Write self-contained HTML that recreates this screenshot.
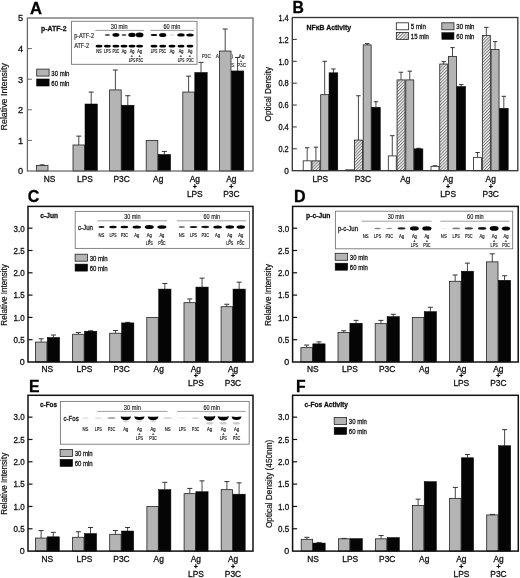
<!DOCTYPE html>
<html><head><meta charset="utf-8"><title>Figure</title>
<style>html,body{margin:0;padding:0;background:#fff;}svg{display:block;will-change:transform;filter:grayscale(1) blur(0.3px);font-family:'Liberation Sans', sans-serif;}</style>
</head><body>
<svg width="520" height="578" viewBox="0 0 520 578">
<defs>
<pattern id="hatch" width="2.2" height="2.2" patternUnits="userSpaceOnUse" patternTransform="rotate(45)"><rect width="2.2" height="2.2" fill="#f6f6f6"/><line x1="0.5" y1="0" x2="0.5" y2="2.2" stroke="#666" stroke-width="0.85"/></pattern>
<filter id="bl" x="-30%" y="-80%" width="160%" height="260%"><feGaussianBlur stdDeviation="0.45"/></filter>
</defs>
<rect width="520" height="578" fill="#fff"/>
<line x1="42.20" y1="165.49" x2="42.20" y2="164.88" stroke="#333" stroke-width="0.9"/>
<line x1="39.70" y1="164.88" x2="44.70" y2="164.88" stroke="#333" stroke-width="1"/>
<rect x="36.40" y="165.49" width="11.60" height="5.51" fill="#b4b4b4" stroke="#222" stroke-width="0.8"/>
<line x1="78.80" y1="144.99" x2="78.80" y2="136.12" stroke="#333" stroke-width="0.9"/>
<line x1="76.30" y1="136.12" x2="81.30" y2="136.12" stroke="#333" stroke-width="1"/>
<rect x="73.00" y="144.99" width="11.60" height="26.01" fill="#b4b4b4" stroke="#222" stroke-width="0.8"/>
<line x1="91.20" y1="103.99" x2="91.20" y2="92.05" stroke="#333" stroke-width="0.9"/>
<line x1="88.70" y1="92.05" x2="93.70" y2="92.05" stroke="#333" stroke-width="1"/>
<rect x="85.00" y="103.99" width="12.40" height="67.01" fill="#050505" stroke="#000" stroke-width="0.5"/>
<line x1="115.40" y1="89.91" x2="115.40" y2="70.02" stroke="#333" stroke-width="0.9"/>
<line x1="112.90" y1="70.02" x2="117.90" y2="70.02" stroke="#333" stroke-width="1"/>
<rect x="109.60" y="89.91" width="11.60" height="81.09" fill="#b4b4b4" stroke="#222" stroke-width="0.8"/>
<line x1="127.80" y1="105.21" x2="127.80" y2="95.72" stroke="#333" stroke-width="0.9"/>
<line x1="125.30" y1="95.72" x2="130.30" y2="95.72" stroke="#333" stroke-width="1"/>
<rect x="121.60" y="105.21" width="12.40" height="65.79" fill="#050505" stroke="#000" stroke-width="0.5"/>
<rect x="146.20" y="140.40" width="11.60" height="30.60" fill="#b4b4b4" stroke="#222" stroke-width="0.8"/>
<line x1="164.40" y1="154.48" x2="164.40" y2="151.42" stroke="#333" stroke-width="0.9"/>
<line x1="161.90" y1="151.42" x2="166.90" y2="151.42" stroke="#333" stroke-width="1"/>
<rect x="158.20" y="154.48" width="12.40" height="16.52" fill="#050505" stroke="#000" stroke-width="0.5"/>
<line x1="188.60" y1="92.05" x2="188.60" y2="76.14" stroke="#333" stroke-width="0.9"/>
<line x1="186.10" y1="76.14" x2="191.10" y2="76.14" stroke="#333" stroke-width="1"/>
<rect x="182.80" y="92.05" width="11.60" height="78.95" fill="#b4b4b4" stroke="#222" stroke-width="0.8"/>
<line x1="201.00" y1="72.47" x2="201.00" y2="62.37" stroke="#333" stroke-width="0.9"/>
<line x1="198.50" y1="62.37" x2="203.50" y2="62.37" stroke="#333" stroke-width="1"/>
<rect x="194.80" y="72.47" width="12.40" height="98.53" fill="#050505" stroke="#000" stroke-width="0.5"/>
<line x1="225.20" y1="51.05" x2="225.20" y2="29.02" stroke="#333" stroke-width="0.9"/>
<line x1="222.70" y1="29.02" x2="227.70" y2="29.02" stroke="#333" stroke-width="1"/>
<rect x="219.40" y="51.05" width="11.60" height="119.95" fill="#b4b4b4" stroke="#222" stroke-width="0.8"/>
<line x1="237.60" y1="70.94" x2="237.60" y2="57.47" stroke="#333" stroke-width="0.9"/>
<line x1="235.10" y1="57.47" x2="240.10" y2="57.47" stroke="#333" stroke-width="1"/>
<rect x="231.40" y="70.94" width="12.40" height="100.06" fill="#050505" stroke="#000" stroke-width="0.5"/>
<rect x="27.4" y="18" width="225.6" height="153" fill="none" stroke="#666" stroke-width="1.25"/>
<text x="23.10" y="174.30" font-size="9.2" text-anchor="end" font-weight="normal" fill="#111" stroke="#111" stroke-width="0.3" >0</text>
<line x1="27.40" y1="140.40" x2="31.90" y2="140.40" stroke="#666" stroke-width="1"/>
<text x="23.10" y="143.70" font-size="9.2" text-anchor="end" font-weight="normal" fill="#111" stroke="#111" stroke-width="0.3" >1</text>
<line x1="27.40" y1="109.80" x2="31.90" y2="109.80" stroke="#666" stroke-width="1"/>
<text x="23.10" y="113.10" font-size="9.2" text-anchor="end" font-weight="normal" fill="#111" stroke="#111" stroke-width="0.3" >2</text>
<line x1="27.40" y1="79.20" x2="31.90" y2="79.20" stroke="#666" stroke-width="1"/>
<text x="23.10" y="82.50" font-size="9.2" text-anchor="end" font-weight="normal" fill="#111" stroke="#111" stroke-width="0.3" >3</text>
<line x1="27.40" y1="48.60" x2="31.90" y2="48.60" stroke="#666" stroke-width="1"/>
<text x="23.10" y="51.90" font-size="9.2" text-anchor="end" font-weight="normal" fill="#111" stroke="#111" stroke-width="0.3" >4</text>
<text x="23.10" y="21.30" font-size="9.2" text-anchor="end" font-weight="normal" fill="#111" stroke="#111" stroke-width="0.3" >5</text>
<text x="49.50" y="182.20" font-size="8.4" text-anchor="middle" font-weight="normal" fill="#111" stroke="#111" stroke-width="0.3" >NS</text>
<text x="85.00" y="182.20" font-size="8.4" text-anchor="middle" font-weight="normal" fill="#111" stroke="#111" stroke-width="0.3" >LPS</text>
<text x="121.60" y="182.20" font-size="8.4" text-anchor="middle" font-weight="normal" fill="#111" stroke="#111" stroke-width="0.3" >P3C</text>
<text x="158.20" y="182.20" font-size="8.4" text-anchor="middle" font-weight="normal" fill="#111" stroke="#111" stroke-width="0.3" >Ag</text>
<text x="194.80" y="182.20" font-size="8.4" text-anchor="middle" font-weight="normal" fill="#111" stroke="#111" stroke-width="0.3" >Ag</text>
<text x="194.80" y="188.80" font-size="7" text-anchor="middle" font-weight="bold" fill="#111" stroke="#111" stroke-width="0.3" >+</text>
<text x="194.80" y="196.80" font-size="8.4" text-anchor="middle" font-weight="normal" fill="#111" stroke="#111" stroke-width="0.3" >LPS</text>
<text x="231.40" y="182.20" font-size="8.4" text-anchor="middle" font-weight="normal" fill="#111" stroke="#111" stroke-width="0.3" >Ag</text>
<text x="231.40" y="188.80" font-size="7" text-anchor="middle" font-weight="bold" fill="#111" stroke="#111" stroke-width="0.3" >+</text>
<text x="231.40" y="196.80" font-size="8.4" text-anchor="middle" font-weight="normal" fill="#111" stroke="#111" stroke-width="0.3" >P3C</text>
<text transform="translate(7.4,96.8) rotate(-90)" font-size="8.6" text-anchor="middle" fill="#111" stroke="#111" stroke-width="0.2" textLength="67.2" lengthAdjust="spacingAndGlyphs">Relative Intensity</text>
<line x1="307.18" y1="160.85" x2="307.18" y2="147.73" stroke="#333" stroke-width="0.9"/>
<line x1="304.98" y1="147.73" x2="309.38" y2="147.73" stroke="#333" stroke-width="1"/>
<rect x="303.20" y="160.85" width="7.95" height="9.85" fill="#fff" stroke="#222" stroke-width="0.8"/>
<line x1="315.93" y1="160.85" x2="315.93" y2="147.18" stroke="#333" stroke-width="0.9"/>
<line x1="313.73" y1="147.18" x2="318.12" y2="147.18" stroke="#333" stroke-width="1"/>
<rect x="311.95" y="160.85" width="7.95" height="9.85" fill="url(#hatch)" stroke="#222" stroke-width="0.8"/>
<line x1="324.68" y1="94.67" x2="324.68" y2="61.30" stroke="#333" stroke-width="0.9"/>
<line x1="322.48" y1="61.30" x2="326.88" y2="61.30" stroke="#333" stroke-width="1"/>
<rect x="320.70" y="94.67" width="7.95" height="76.03" fill="#b4b4b4" stroke="#222" stroke-width="0.8"/>
<line x1="333.43" y1="72.79" x2="333.43" y2="68.96" stroke="#333" stroke-width="0.9"/>
<line x1="331.23" y1="68.96" x2="335.62" y2="68.96" stroke="#333" stroke-width="1"/>
<rect x="329.05" y="72.79" width="8.75" height="97.91" fill="#050505" stroke="#000" stroke-width="0.5"/>
<rect x="345.70" y="169.82" width="7.95" height="0.88" fill="#fff" stroke="#222" stroke-width="0.8"/>
<line x1="358.43" y1="140.07" x2="358.43" y2="95.76" stroke="#333" stroke-width="0.9"/>
<line x1="356.23" y1="95.76" x2="360.62" y2="95.76" stroke="#333" stroke-width="1"/>
<rect x="354.45" y="140.07" width="7.95" height="30.63" fill="url(#hatch)" stroke="#222" stroke-width="0.8"/>
<line x1="367.18" y1="44.89" x2="367.18" y2="43.58" stroke="#333" stroke-width="0.9"/>
<line x1="364.98" y1="43.58" x2="369.38" y2="43.58" stroke="#333" stroke-width="1"/>
<rect x="363.20" y="44.89" width="7.95" height="125.81" fill="#b4b4b4" stroke="#222" stroke-width="0.8"/>
<line x1="375.93" y1="107.25" x2="375.93" y2="101.78" stroke="#333" stroke-width="0.9"/>
<line x1="373.73" y1="101.78" x2="378.12" y2="101.78" stroke="#333" stroke-width="1"/>
<rect x="371.55" y="107.25" width="8.75" height="63.45" fill="#050505" stroke="#000" stroke-width="0.5"/>
<line x1="392.27" y1="155.93" x2="392.27" y2="135.69" stroke="#333" stroke-width="0.9"/>
<line x1="390.07" y1="135.69" x2="394.47" y2="135.69" stroke="#333" stroke-width="1"/>
<rect x="388.30" y="155.93" width="7.95" height="14.77" fill="#fff" stroke="#222" stroke-width="0.8"/>
<line x1="401.02" y1="79.90" x2="401.02" y2="72.24" stroke="#333" stroke-width="0.9"/>
<line x1="398.82" y1="72.24" x2="403.22" y2="72.24" stroke="#333" stroke-width="1"/>
<rect x="397.05" y="79.90" width="7.95" height="90.80" fill="url(#hatch)" stroke="#222" stroke-width="0.8"/>
<line x1="409.77" y1="79.90" x2="409.77" y2="71.15" stroke="#333" stroke-width="0.9"/>
<line x1="407.57" y1="71.15" x2="411.97" y2="71.15" stroke="#333" stroke-width="1"/>
<rect x="405.80" y="79.90" width="7.95" height="90.80" fill="#b4b4b4" stroke="#222" stroke-width="0.8"/>
<line x1="418.52" y1="148.82" x2="418.52" y2="148.27" stroke="#333" stroke-width="0.9"/>
<line x1="416.32" y1="148.27" x2="420.72" y2="148.27" stroke="#333" stroke-width="1"/>
<rect x="414.15" y="148.82" width="8.75" height="21.88" fill="#050505" stroke="#000" stroke-width="0.5"/>
<line x1="434.98" y1="166.32" x2="434.98" y2="165.78" stroke="#333" stroke-width="0.9"/>
<line x1="432.78" y1="165.78" x2="437.18" y2="165.78" stroke="#333" stroke-width="1"/>
<rect x="431.00" y="166.32" width="7.95" height="4.38" fill="#fff" stroke="#222" stroke-width="0.8"/>
<line x1="443.73" y1="64.03" x2="443.73" y2="61.63" stroke="#333" stroke-width="0.9"/>
<line x1="441.53" y1="61.63" x2="445.93" y2="61.63" stroke="#333" stroke-width="1"/>
<rect x="439.75" y="64.03" width="7.95" height="106.67" fill="url(#hatch)" stroke="#222" stroke-width="0.8"/>
<line x1="452.48" y1="56.38" x2="452.48" y2="47.62" stroke="#333" stroke-width="0.9"/>
<line x1="450.28" y1="47.62" x2="454.68" y2="47.62" stroke="#333" stroke-width="1"/>
<rect x="448.50" y="56.38" width="7.95" height="114.32" fill="#b4b4b4" stroke="#222" stroke-width="0.8"/>
<line x1="461.23" y1="86.46" x2="461.23" y2="84.60" stroke="#333" stroke-width="0.9"/>
<line x1="459.03" y1="84.60" x2="463.43" y2="84.60" stroke="#333" stroke-width="1"/>
<rect x="456.85" y="86.46" width="8.75" height="84.24" fill="#050505" stroke="#000" stroke-width="0.5"/>
<line x1="477.57" y1="157.35" x2="477.57" y2="152.54" stroke="#333" stroke-width="0.9"/>
<line x1="475.38" y1="152.54" x2="479.77" y2="152.54" stroke="#333" stroke-width="1"/>
<rect x="473.60" y="157.35" width="7.95" height="13.35" fill="#fff" stroke="#222" stroke-width="0.8"/>
<line x1="486.32" y1="35.59" x2="486.32" y2="27.39" stroke="#333" stroke-width="0.9"/>
<line x1="484.12" y1="27.39" x2="488.52" y2="27.39" stroke="#333" stroke-width="1"/>
<rect x="482.35" y="35.59" width="7.95" height="135.11" fill="url(#hatch)" stroke="#222" stroke-width="0.8"/>
<line x1="495.07" y1="49.59" x2="495.07" y2="41.61" stroke="#333" stroke-width="0.9"/>
<line x1="492.88" y1="41.61" x2="497.27" y2="41.61" stroke="#333" stroke-width="1"/>
<rect x="491.10" y="49.59" width="7.95" height="121.11" fill="#b4b4b4" stroke="#222" stroke-width="0.8"/>
<line x1="503.82" y1="108.34" x2="503.82" y2="96.31" stroke="#333" stroke-width="0.9"/>
<line x1="501.62" y1="96.31" x2="506.02" y2="96.31" stroke="#333" stroke-width="1"/>
<rect x="499.45" y="108.34" width="8.75" height="62.36" fill="#050505" stroke="#000" stroke-width="0.5"/>
<rect x="292.3" y="17.5" width="225.49999999999994" height="153.2" fill="none" stroke="#333" stroke-width="1.3"/>
<text x="288.70" y="174.00" font-size="8.2" text-anchor="end" font-weight="normal" fill="#111" stroke="#111" stroke-width="0.3" >0</text>
<line x1="292.30" y1="148.82" x2="296.80" y2="148.82" stroke="#333" stroke-width="1"/>
<text x="288.70" y="152.12" font-size="8.2" text-anchor="end" font-weight="normal" fill="#111" stroke="#111" stroke-width="0.3" textLength="10.26" lengthAdjust="spacingAndGlyphs">0.2</text>
<line x1="292.30" y1="126.94" x2="296.80" y2="126.94" stroke="#333" stroke-width="1"/>
<text x="288.70" y="130.24" font-size="8.2" text-anchor="end" font-weight="normal" fill="#111" stroke="#111" stroke-width="0.3" textLength="10.26" lengthAdjust="spacingAndGlyphs">0.4</text>
<line x1="292.30" y1="105.06" x2="296.80" y2="105.06" stroke="#333" stroke-width="1"/>
<text x="288.70" y="108.36" font-size="8.2" text-anchor="end" font-weight="normal" fill="#111" stroke="#111" stroke-width="0.3" textLength="10.26" lengthAdjust="spacingAndGlyphs">0.6</text>
<line x1="292.30" y1="83.18" x2="296.80" y2="83.18" stroke="#333" stroke-width="1"/>
<text x="288.70" y="86.48" font-size="8.2" text-anchor="end" font-weight="normal" fill="#111" stroke="#111" stroke-width="0.3" textLength="10.26" lengthAdjust="spacingAndGlyphs">0.8</text>
<line x1="292.30" y1="61.30" x2="296.80" y2="61.30" stroke="#333" stroke-width="1"/>
<text x="288.70" y="64.60" font-size="8.2" text-anchor="end" font-weight="normal" fill="#111" stroke="#111" stroke-width="0.3" textLength="10.26" lengthAdjust="spacingAndGlyphs">1.0</text>
<line x1="292.30" y1="39.42" x2="296.80" y2="39.42" stroke="#333" stroke-width="1"/>
<text x="288.70" y="42.72" font-size="8.2" text-anchor="end" font-weight="normal" fill="#111" stroke="#111" stroke-width="0.3" textLength="10.26" lengthAdjust="spacingAndGlyphs">1.2</text>
<text x="288.70" y="20.84" font-size="8.2" text-anchor="end" font-weight="normal" fill="#111" stroke="#111" stroke-width="0.3" textLength="10.26" lengthAdjust="spacingAndGlyphs">1.4</text>
<text x="320.30" y="181.90" font-size="8.4" text-anchor="middle" font-weight="normal" fill="#111" stroke="#111" stroke-width="0.3" >LPS</text>
<text x="362.80" y="181.90" font-size="8.4" text-anchor="middle" font-weight="normal" fill="#111" stroke="#111" stroke-width="0.3" >P3C</text>
<text x="405.40" y="181.90" font-size="8.4" text-anchor="middle" font-weight="normal" fill="#111" stroke="#111" stroke-width="0.3" >Ag</text>
<text x="448.10" y="181.90" font-size="8.4" text-anchor="middle" font-weight="normal" fill="#111" stroke="#111" stroke-width="0.3" >Ag</text>
<text x="448.10" y="188.50" font-size="7" text-anchor="middle" font-weight="bold" fill="#111" stroke="#111" stroke-width="0.3" >+</text>
<text x="448.10" y="196.50" font-size="8.4" text-anchor="middle" font-weight="normal" fill="#111" stroke="#111" stroke-width="0.3" >LPS</text>
<text x="490.70" y="181.90" font-size="8.4" text-anchor="middle" font-weight="normal" fill="#111" stroke="#111" stroke-width="0.3" >Ag</text>
<text x="490.70" y="188.50" font-size="7" text-anchor="middle" font-weight="bold" fill="#111" stroke="#111" stroke-width="0.3" >+</text>
<text x="490.70" y="196.50" font-size="8.4" text-anchor="middle" font-weight="normal" fill="#111" stroke="#111" stroke-width="0.3" >P3C</text>
<text transform="translate(271.4,94.2) rotate(-90)" font-size="8.2" text-anchor="middle" fill="#111" stroke="#111" stroke-width="0.2" textLength="54.4" lengthAdjust="spacingAndGlyphs">Optical Density</text>
<line x1="41.15" y1="342.06" x2="41.15" y2="338.81" stroke="#333" stroke-width="0.9"/>
<line x1="38.65" y1="338.81" x2="43.65" y2="338.81" stroke="#333" stroke-width="1"/>
<rect x="35.40" y="342.06" width="11.50" height="19.94" fill="#b4b4b4" stroke="#222" stroke-width="0.8"/>
<line x1="53.45" y1="337.47" x2="53.45" y2="335.02" stroke="#333" stroke-width="0.9"/>
<line x1="50.95" y1="335.02" x2="55.95" y2="335.02" stroke="#333" stroke-width="1"/>
<rect x="47.30" y="337.47" width="12.30" height="24.53" fill="#050505" stroke="#000" stroke-width="0.5"/>
<line x1="78.35" y1="334.26" x2="78.35" y2="332.56" stroke="#333" stroke-width="0.9"/>
<line x1="75.85" y1="332.56" x2="80.85" y2="332.56" stroke="#333" stroke-width="1"/>
<rect x="72.60" y="334.26" width="11.50" height="27.74" fill="#b4b4b4" stroke="#222" stroke-width="0.8"/>
<line x1="90.65" y1="331.23" x2="90.65" y2="330.78" stroke="#333" stroke-width="0.9"/>
<line x1="88.15" y1="330.78" x2="93.15" y2="330.78" stroke="#333" stroke-width="1"/>
<rect x="84.50" y="331.23" width="12.30" height="30.77" fill="#050505" stroke="#000" stroke-width="0.5"/>
<line x1="115.45" y1="333.23" x2="115.45" y2="330.47" stroke="#333" stroke-width="0.9"/>
<line x1="112.95" y1="330.47" x2="117.95" y2="330.47" stroke="#333" stroke-width="1"/>
<rect x="109.70" y="333.23" width="11.50" height="28.77" fill="#b4b4b4" stroke="#222" stroke-width="0.8"/>
<line x1="127.75" y1="322.89" x2="127.75" y2="322.31" stroke="#333" stroke-width="0.9"/>
<line x1="125.25" y1="322.31" x2="130.25" y2="322.31" stroke="#333" stroke-width="1"/>
<rect x="121.60" y="322.89" width="12.30" height="39.11" fill="#050505" stroke="#000" stroke-width="0.5"/>
<rect x="146.80" y="317.40" width="11.50" height="44.60" fill="#b4b4b4" stroke="#222" stroke-width="0.8"/>
<line x1="164.85" y1="289.08" x2="164.85" y2="283.50" stroke="#333" stroke-width="0.9"/>
<line x1="162.35" y1="283.50" x2="167.35" y2="283.50" stroke="#333" stroke-width="1"/>
<rect x="158.70" y="289.08" width="12.30" height="72.92" fill="#050505" stroke="#000" stroke-width="0.5"/>
<line x1="189.75" y1="302.68" x2="189.75" y2="298.94" stroke="#333" stroke-width="0.9"/>
<line x1="187.25" y1="298.94" x2="192.25" y2="298.94" stroke="#333" stroke-width="1"/>
<rect x="184.00" y="302.68" width="11.50" height="59.32" fill="#b4b4b4" stroke="#222" stroke-width="0.8"/>
<line x1="202.05" y1="287.07" x2="202.05" y2="278.15" stroke="#333" stroke-width="0.9"/>
<line x1="199.55" y1="278.15" x2="204.55" y2="278.15" stroke="#333" stroke-width="1"/>
<rect x="195.90" y="287.07" width="12.30" height="74.93" fill="#050505" stroke="#000" stroke-width="0.5"/>
<line x1="226.85" y1="306.70" x2="226.85" y2="304.24" stroke="#333" stroke-width="0.9"/>
<line x1="224.35" y1="304.24" x2="229.35" y2="304.24" stroke="#333" stroke-width="1"/>
<rect x="221.10" y="306.70" width="11.50" height="55.30" fill="#b4b4b4" stroke="#222" stroke-width="0.8"/>
<line x1="239.15" y1="289.08" x2="239.15" y2="282.17" stroke="#333" stroke-width="0.9"/>
<line x1="236.65" y1="282.17" x2="241.65" y2="282.17" stroke="#333" stroke-width="1"/>
<rect x="233.00" y="289.08" width="12.30" height="72.92" fill="#050505" stroke="#000" stroke-width="0.5"/>
<rect x="28" y="206.4" width="225" height="155.6" fill="none" stroke="#111" stroke-width="1.5"/>
<text x="24.60" y="365.30" font-size="8.9" text-anchor="end" font-weight="normal" fill="#111" stroke="#111" stroke-width="0.3" >0</text>
<line x1="28.00" y1="339.70" x2="32.50" y2="339.70" stroke="#111" stroke-width="1.2"/>
<text x="24.60" y="343.00" font-size="8.9" text-anchor="end" font-weight="normal" fill="#111" stroke="#111" stroke-width="0.3" textLength="11.13" lengthAdjust="spacingAndGlyphs">0.5</text>
<line x1="28.00" y1="317.40" x2="32.50" y2="317.40" stroke="#111" stroke-width="1.2"/>
<text x="24.60" y="320.70" font-size="8.9" text-anchor="end" font-weight="normal" fill="#111" stroke="#111" stroke-width="0.3" textLength="11.13" lengthAdjust="spacingAndGlyphs">1.0</text>
<line x1="28.00" y1="295.10" x2="32.50" y2="295.10" stroke="#111" stroke-width="1.2"/>
<text x="24.60" y="298.40" font-size="8.9" text-anchor="end" font-weight="normal" fill="#111" stroke="#111" stroke-width="0.3" textLength="11.13" lengthAdjust="spacingAndGlyphs">1.5</text>
<line x1="28.00" y1="272.80" x2="32.50" y2="272.80" stroke="#111" stroke-width="1.2"/>
<text x="24.60" y="276.10" font-size="8.9" text-anchor="end" font-weight="normal" fill="#111" stroke="#111" stroke-width="0.3" textLength="11.13" lengthAdjust="spacingAndGlyphs">2.0</text>
<line x1="28.00" y1="250.50" x2="32.50" y2="250.50" stroke="#111" stroke-width="1.2"/>
<text x="24.60" y="253.80" font-size="8.9" text-anchor="end" font-weight="normal" fill="#111" stroke="#111" stroke-width="0.3" textLength="11.13" lengthAdjust="spacingAndGlyphs">2.5</text>
<line x1="28.00" y1="228.20" x2="32.50" y2="228.20" stroke="#111" stroke-width="1.2"/>
<text x="24.60" y="231.50" font-size="8.9" text-anchor="end" font-weight="normal" fill="#111" stroke="#111" stroke-width="0.3" textLength="11.13" lengthAdjust="spacingAndGlyphs">3.0</text>
<text x="47.30" y="371.60" font-size="8.4" text-anchor="middle" font-weight="normal" fill="#111" stroke="#111" stroke-width="0.3" >NS</text>
<text x="84.50" y="371.60" font-size="8.4" text-anchor="middle" font-weight="normal" fill="#111" stroke="#111" stroke-width="0.3" >LPS</text>
<text x="121.60" y="371.60" font-size="8.4" text-anchor="middle" font-weight="normal" fill="#111" stroke="#111" stroke-width="0.3" >P3C</text>
<text x="158.70" y="371.60" font-size="8.4" text-anchor="middle" font-weight="normal" fill="#111" stroke="#111" stroke-width="0.3" >Ag</text>
<text x="195.90" y="371.60" font-size="8.4" text-anchor="middle" font-weight="normal" fill="#111" stroke="#111" stroke-width="0.3" >Ag</text>
<text x="195.90" y="378.20" font-size="7" text-anchor="middle" font-weight="bold" fill="#111" stroke="#111" stroke-width="0.3" >+</text>
<text x="195.90" y="386.20" font-size="8.4" text-anchor="middle" font-weight="normal" fill="#111" stroke="#111" stroke-width="0.3" >LPS</text>
<text x="233.00" y="371.60" font-size="8.4" text-anchor="middle" font-weight="normal" fill="#111" stroke="#111" stroke-width="0.3" >Ag</text>
<text x="233.00" y="378.20" font-size="7" text-anchor="middle" font-weight="bold" fill="#111" stroke="#111" stroke-width="0.3" >+</text>
<text x="233.00" y="386.20" font-size="8.4" text-anchor="middle" font-weight="normal" fill="#111" stroke="#111" stroke-width="0.3" >P3C</text>
<text transform="translate(7.4,294.9) rotate(-90)" font-size="8.2" text-anchor="middle" fill="#111" stroke="#111" stroke-width="0.2" textLength="61.5" lengthAdjust="spacingAndGlyphs">Relative Intensity</text>
<line x1="306.65" y1="347.64" x2="306.65" y2="345.05" stroke="#333" stroke-width="0.9"/>
<line x1="304.15" y1="345.05" x2="309.15" y2="345.05" stroke="#333" stroke-width="1"/>
<rect x="300.90" y="347.64" width="11.50" height="14.36" fill="#b4b4b4" stroke="#222" stroke-width="0.8"/>
<line x1="318.95" y1="343.85" x2="318.95" y2="341.93" stroke="#333" stroke-width="0.9"/>
<line x1="316.45" y1="341.93" x2="321.45" y2="341.93" stroke="#333" stroke-width="1"/>
<rect x="312.80" y="343.85" width="12.30" height="18.15" fill="#050505" stroke="#000" stroke-width="0.5"/>
<line x1="343.75" y1="332.56" x2="343.75" y2="330.78" stroke="#333" stroke-width="0.9"/>
<line x1="341.25" y1="330.78" x2="346.25" y2="330.78" stroke="#333" stroke-width="1"/>
<rect x="338.00" y="332.56" width="11.50" height="29.44" fill="#b4b4b4" stroke="#222" stroke-width="0.8"/>
<line x1="356.05" y1="323.20" x2="356.05" y2="320.39" stroke="#333" stroke-width="0.9"/>
<line x1="353.55" y1="320.39" x2="358.55" y2="320.39" stroke="#333" stroke-width="1"/>
<rect x="349.90" y="323.20" width="12.30" height="38.80" fill="#050505" stroke="#000" stroke-width="0.5"/>
<line x1="380.95" y1="323.64" x2="380.95" y2="320.39" stroke="#333" stroke-width="0.9"/>
<line x1="378.45" y1="320.39" x2="383.45" y2="320.39" stroke="#333" stroke-width="1"/>
<rect x="375.20" y="323.64" width="11.50" height="38.36" fill="#b4b4b4" stroke="#222" stroke-width="0.8"/>
<line x1="393.25" y1="316.60" x2="393.25" y2="314.28" stroke="#333" stroke-width="0.9"/>
<line x1="390.75" y1="314.28" x2="395.75" y2="314.28" stroke="#333" stroke-width="1"/>
<rect x="387.10" y="316.60" width="12.30" height="45.40" fill="#050505" stroke="#000" stroke-width="0.5"/>
<rect x="412.30" y="317.40" width="11.50" height="44.60" fill="#b4b4b4" stroke="#222" stroke-width="0.8"/>
<line x1="430.35" y1="311.60" x2="430.35" y2="307.28" stroke="#333" stroke-width="0.9"/>
<line x1="427.85" y1="307.28" x2="432.85" y2="307.28" stroke="#333" stroke-width="1"/>
<rect x="424.20" y="311.60" width="12.30" height="50.40" fill="#050505" stroke="#000" stroke-width="0.5"/>
<line x1="455.15" y1="281.27" x2="455.15" y2="275.03" stroke="#333" stroke-width="0.9"/>
<line x1="452.65" y1="275.03" x2="457.65" y2="275.03" stroke="#333" stroke-width="1"/>
<rect x="449.40" y="281.27" width="11.50" height="80.73" fill="#b4b4b4" stroke="#222" stroke-width="0.8"/>
<line x1="467.45" y1="271.19" x2="467.45" y2="263.12" stroke="#333" stroke-width="0.9"/>
<line x1="464.95" y1="263.12" x2="469.95" y2="263.12" stroke="#333" stroke-width="1"/>
<rect x="461.30" y="271.19" width="12.30" height="90.81" fill="#050505" stroke="#000" stroke-width="0.5"/>
<line x1="492.25" y1="261.87" x2="492.25" y2="253.80" stroke="#333" stroke-width="0.9"/>
<line x1="489.75" y1="253.80" x2="494.75" y2="253.80" stroke="#333" stroke-width="1"/>
<rect x="486.50" y="261.87" width="11.50" height="100.13" fill="#b4b4b4" stroke="#222" stroke-width="0.8"/>
<line x1="504.55" y1="280.25" x2="504.55" y2="275.74" stroke="#333" stroke-width="0.9"/>
<line x1="502.05" y1="275.74" x2="507.05" y2="275.74" stroke="#333" stroke-width="1"/>
<rect x="498.40" y="280.25" width="12.30" height="81.75" fill="#050505" stroke="#000" stroke-width="0.5"/>
<rect x="292.6" y="206.4" width="225.60000000000002" height="155.6" fill="none" stroke="#111" stroke-width="1.5"/>
<text x="289.20" y="365.30" font-size="8.9" text-anchor="end" font-weight="normal" fill="#111" stroke="#111" stroke-width="0.3" >0</text>
<line x1="292.60" y1="339.70" x2="297.10" y2="339.70" stroke="#111" stroke-width="1.2"/>
<text x="289.20" y="343.00" font-size="8.9" text-anchor="end" font-weight="normal" fill="#111" stroke="#111" stroke-width="0.3" textLength="11.13" lengthAdjust="spacingAndGlyphs">0.5</text>
<line x1="292.60" y1="317.40" x2="297.10" y2="317.40" stroke="#111" stroke-width="1.2"/>
<text x="289.20" y="320.70" font-size="8.9" text-anchor="end" font-weight="normal" fill="#111" stroke="#111" stroke-width="0.3" textLength="11.13" lengthAdjust="spacingAndGlyphs">1.0</text>
<line x1="292.60" y1="295.10" x2="297.10" y2="295.10" stroke="#111" stroke-width="1.2"/>
<text x="289.20" y="298.40" font-size="8.9" text-anchor="end" font-weight="normal" fill="#111" stroke="#111" stroke-width="0.3" textLength="11.13" lengthAdjust="spacingAndGlyphs">1.5</text>
<line x1="292.60" y1="272.80" x2="297.10" y2="272.80" stroke="#111" stroke-width="1.2"/>
<text x="289.20" y="276.10" font-size="8.9" text-anchor="end" font-weight="normal" fill="#111" stroke="#111" stroke-width="0.3" textLength="11.13" lengthAdjust="spacingAndGlyphs">2.0</text>
<line x1="292.60" y1="250.50" x2="297.10" y2="250.50" stroke="#111" stroke-width="1.2"/>
<text x="289.20" y="253.80" font-size="8.9" text-anchor="end" font-weight="normal" fill="#111" stroke="#111" stroke-width="0.3" textLength="11.13" lengthAdjust="spacingAndGlyphs">2.5</text>
<line x1="292.60" y1="228.20" x2="297.10" y2="228.20" stroke="#111" stroke-width="1.2"/>
<text x="289.20" y="231.50" font-size="8.9" text-anchor="end" font-weight="normal" fill="#111" stroke="#111" stroke-width="0.3" textLength="11.13" lengthAdjust="spacingAndGlyphs">3.0</text>
<text x="312.80" y="371.80" font-size="8.4" text-anchor="middle" font-weight="normal" fill="#111" stroke="#111" stroke-width="0.3" >NS</text>
<text x="349.90" y="371.80" font-size="8.4" text-anchor="middle" font-weight="normal" fill="#111" stroke="#111" stroke-width="0.3" >LPS</text>
<text x="387.10" y="371.80" font-size="8.4" text-anchor="middle" font-weight="normal" fill="#111" stroke="#111" stroke-width="0.3" >P3C</text>
<text x="424.20" y="371.80" font-size="8.4" text-anchor="middle" font-weight="normal" fill="#111" stroke="#111" stroke-width="0.3" >Ag</text>
<text x="461.30" y="371.80" font-size="8.4" text-anchor="middle" font-weight="normal" fill="#111" stroke="#111" stroke-width="0.3" >Ag</text>
<text x="461.30" y="378.40" font-size="7" text-anchor="middle" font-weight="bold" fill="#111" stroke="#111" stroke-width="0.3" >+</text>
<text x="461.30" y="386.40" font-size="8.4" text-anchor="middle" font-weight="normal" fill="#111" stroke="#111" stroke-width="0.3" >LPS</text>
<text x="498.40" y="371.80" font-size="8.4" text-anchor="middle" font-weight="normal" fill="#111" stroke="#111" stroke-width="0.3" >Ag</text>
<text x="498.40" y="378.40" font-size="7" text-anchor="middle" font-weight="bold" fill="#111" stroke="#111" stroke-width="0.3" >+</text>
<text x="498.40" y="386.40" font-size="8.4" text-anchor="middle" font-weight="normal" fill="#111" stroke="#111" stroke-width="0.3" >P3C</text>
<text transform="translate(271.4,295) rotate(-90)" font-size="8.2" text-anchor="middle" fill="#111" stroke="#111" stroke-width="0.2" textLength="62" lengthAdjust="spacingAndGlyphs">Relative Intensity</text>
<line x1="41.10" y1="538.06" x2="41.10" y2="530.56" stroke="#333" stroke-width="0.9"/>
<line x1="38.60" y1="530.56" x2="43.60" y2="530.56" stroke="#333" stroke-width="1"/>
<rect x="35.40" y="538.06" width="11.40" height="13.04" fill="#b4b4b4" stroke="#222" stroke-width="0.8"/>
<line x1="53.30" y1="536.81" x2="53.30" y2="532.35" stroke="#333" stroke-width="0.9"/>
<line x1="50.80" y1="532.35" x2="55.80" y2="532.35" stroke="#333" stroke-width="1"/>
<rect x="47.20" y="536.81" width="12.20" height="14.29" fill="#050505" stroke="#000" stroke-width="0.5"/>
<line x1="78.30" y1="537.30" x2="78.30" y2="531.77" stroke="#333" stroke-width="0.9"/>
<line x1="75.80" y1="531.77" x2="80.80" y2="531.77" stroke="#333" stroke-width="1"/>
<rect x="72.60" y="537.30" width="11.40" height="13.80" fill="#b4b4b4" stroke="#222" stroke-width="0.8"/>
<line x1="90.50" y1="533.55" x2="90.50" y2="527.52" stroke="#333" stroke-width="0.9"/>
<line x1="88.00" y1="527.52" x2="93.00" y2="527.52" stroke="#333" stroke-width="1"/>
<rect x="84.40" y="533.55" width="12.20" height="17.55" fill="#050505" stroke="#000" stroke-width="0.5"/>
<line x1="115.40" y1="534.31" x2="115.40" y2="530.56" stroke="#333" stroke-width="0.9"/>
<line x1="112.90" y1="530.56" x2="117.90" y2="530.56" stroke="#333" stroke-width="1"/>
<rect x="109.70" y="534.31" width="11.40" height="16.79" fill="#b4b4b4" stroke="#222" stroke-width="0.8"/>
<line x1="127.60" y1="531.01" x2="127.60" y2="527.52" stroke="#333" stroke-width="0.9"/>
<line x1="125.10" y1="527.52" x2="130.10" y2="527.52" stroke="#333" stroke-width="1"/>
<rect x="121.50" y="531.01" width="12.20" height="20.09" fill="#050505" stroke="#000" stroke-width="0.5"/>
<rect x="146.90" y="506.45" width="11.40" height="44.65" fill="#b4b4b4" stroke="#222" stroke-width="0.8"/>
<line x1="164.80" y1="489.66" x2="164.80" y2="482.34" stroke="#333" stroke-width="0.9"/>
<line x1="162.30" y1="482.34" x2="167.30" y2="482.34" stroke="#333" stroke-width="1"/>
<rect x="158.70" y="489.66" width="12.20" height="61.44" fill="#050505" stroke="#000" stroke-width="0.5"/>
<line x1="189.80" y1="493.64" x2="189.80" y2="488.41" stroke="#333" stroke-width="0.9"/>
<line x1="187.30" y1="488.41" x2="192.30" y2="488.41" stroke="#333" stroke-width="1"/>
<rect x="184.10" y="493.64" width="11.40" height="57.46" fill="#b4b4b4" stroke="#222" stroke-width="0.8"/>
<line x1="202.00" y1="491.72" x2="202.00" y2="480.87" stroke="#333" stroke-width="0.9"/>
<line x1="199.50" y1="480.87" x2="204.50" y2="480.87" stroke="#333" stroke-width="1"/>
<rect x="195.90" y="491.72" width="12.20" height="59.38" fill="#050505" stroke="#000" stroke-width="0.5"/>
<line x1="226.90" y1="489.66" x2="226.90" y2="481.62" stroke="#333" stroke-width="0.9"/>
<line x1="224.40" y1="481.62" x2="229.40" y2="481.62" stroke="#333" stroke-width="1"/>
<rect x="221.20" y="489.66" width="11.40" height="61.44" fill="#b4b4b4" stroke="#222" stroke-width="0.8"/>
<line x1="239.10" y1="494.17" x2="239.10" y2="482.87" stroke="#333" stroke-width="0.9"/>
<line x1="236.60" y1="482.87" x2="241.60" y2="482.87" stroke="#333" stroke-width="1"/>
<rect x="233.00" y="494.17" width="12.20" height="56.93" fill="#050505" stroke="#000" stroke-width="0.5"/>
<rect x="28" y="395.3" width="225" height="155.8" fill="none" stroke="#111" stroke-width="1.5"/>
<text x="24.60" y="554.40" font-size="8.9" text-anchor="end" font-weight="normal" fill="#111" stroke="#111" stroke-width="0.3" >0</text>
<line x1="28.00" y1="528.77" x2="32.50" y2="528.77" stroke="#111" stroke-width="1.2"/>
<text x="24.60" y="532.07" font-size="8.9" text-anchor="end" font-weight="normal" fill="#111" stroke="#111" stroke-width="0.3" textLength="11.13" lengthAdjust="spacingAndGlyphs">0.5</text>
<line x1="28.00" y1="506.45" x2="32.50" y2="506.45" stroke="#111" stroke-width="1.2"/>
<text x="24.60" y="509.75" font-size="8.9" text-anchor="end" font-weight="normal" fill="#111" stroke="#111" stroke-width="0.3" textLength="11.13" lengthAdjust="spacingAndGlyphs">1.0</text>
<line x1="28.00" y1="484.12" x2="32.50" y2="484.12" stroke="#111" stroke-width="1.2"/>
<text x="24.60" y="487.43" font-size="8.9" text-anchor="end" font-weight="normal" fill="#111" stroke="#111" stroke-width="0.3" textLength="11.13" lengthAdjust="spacingAndGlyphs">1.5</text>
<line x1="28.00" y1="461.80" x2="32.50" y2="461.80" stroke="#111" stroke-width="1.2"/>
<text x="24.60" y="465.10" font-size="8.9" text-anchor="end" font-weight="normal" fill="#111" stroke="#111" stroke-width="0.3" textLength="11.13" lengthAdjust="spacingAndGlyphs">2.0</text>
<line x1="28.00" y1="439.48" x2="32.50" y2="439.48" stroke="#111" stroke-width="1.2"/>
<text x="24.60" y="442.78" font-size="8.9" text-anchor="end" font-weight="normal" fill="#111" stroke="#111" stroke-width="0.3" textLength="11.13" lengthAdjust="spacingAndGlyphs">2.5</text>
<line x1="28.00" y1="417.15" x2="32.50" y2="417.15" stroke="#111" stroke-width="1.2"/>
<text x="24.60" y="420.45" font-size="8.9" text-anchor="end" font-weight="normal" fill="#111" stroke="#111" stroke-width="0.3" textLength="11.13" lengthAdjust="spacingAndGlyphs">3.0</text>
<text x="47.20" y="562.30" font-size="8.4" text-anchor="middle" font-weight="normal" fill="#111" stroke="#111" stroke-width="0.3" >NS</text>
<text x="84.40" y="562.30" font-size="8.4" text-anchor="middle" font-weight="normal" fill="#111" stroke="#111" stroke-width="0.3" >LPS</text>
<text x="121.50" y="562.30" font-size="8.4" text-anchor="middle" font-weight="normal" fill="#111" stroke="#111" stroke-width="0.3" >P3C</text>
<text x="158.70" y="562.30" font-size="8.4" text-anchor="middle" font-weight="normal" fill="#111" stroke="#111" stroke-width="0.3" >Ag</text>
<text x="195.90" y="562.30" font-size="8.4" text-anchor="middle" font-weight="normal" fill="#111" stroke="#111" stroke-width="0.3" >Ag</text>
<text x="195.90" y="568.90" font-size="7" text-anchor="middle" font-weight="bold" fill="#111" stroke="#111" stroke-width="0.3" >+</text>
<text x="195.90" y="576.90" font-size="8.4" text-anchor="middle" font-weight="normal" fill="#111" stroke="#111" stroke-width="0.3" >LPS</text>
<text x="233.00" y="562.30" font-size="8.4" text-anchor="middle" font-weight="normal" fill="#111" stroke="#111" stroke-width="0.3" >Ag</text>
<text x="233.00" y="568.90" font-size="7" text-anchor="middle" font-weight="bold" fill="#111" stroke="#111" stroke-width="0.3" >+</text>
<text x="233.00" y="576.90" font-size="8.4" text-anchor="middle" font-weight="normal" fill="#111" stroke="#111" stroke-width="0.3" >P3C</text>
<text transform="translate(7.4,483.7) rotate(-90)" font-size="8.2" text-anchor="middle" fill="#111" stroke="#111" stroke-width="0.2" textLength="61.9" lengthAdjust="spacingAndGlyphs">Relative Intensity</text>
<line x1="306.90" y1="539.31" x2="306.90" y2="537.30" stroke="#333" stroke-width="0.9"/>
<line x1="304.40" y1="537.30" x2="309.40" y2="537.30" stroke="#333" stroke-width="1"/>
<rect x="301.20" y="539.31" width="11.40" height="11.79" fill="#b4b4b4" stroke="#222" stroke-width="0.8"/>
<line x1="319.10" y1="543.06" x2="319.10" y2="542.62" stroke="#333" stroke-width="0.9"/>
<line x1="316.60" y1="542.62" x2="321.60" y2="542.62" stroke="#333" stroke-width="1"/>
<rect x="313.00" y="543.06" width="12.20" height="8.04" fill="#050505" stroke="#000" stroke-width="0.5"/>
<line x1="344.10" y1="538.82" x2="344.10" y2="538.37" stroke="#333" stroke-width="0.9"/>
<line x1="341.60" y1="538.37" x2="346.60" y2="538.37" stroke="#333" stroke-width="1"/>
<rect x="338.40" y="538.82" width="11.40" height="12.28" fill="#b4b4b4" stroke="#222" stroke-width="0.8"/>
<rect x="350.20" y="538.60" width="12.20" height="12.50" fill="#050505" stroke="#000" stroke-width="0.5"/>
<line x1="381.10" y1="538.82" x2="381.10" y2="535.56" stroke="#333" stroke-width="0.9"/>
<line x1="378.60" y1="535.56" x2="383.60" y2="535.56" stroke="#333" stroke-width="1"/>
<rect x="375.40" y="538.82" width="11.40" height="12.28" fill="#b4b4b4" stroke="#222" stroke-width="0.8"/>
<rect x="387.20" y="537.57" width="12.20" height="13.53" fill="#050505" stroke="#000" stroke-width="0.5"/>
<line x1="418.10" y1="505.56" x2="418.10" y2="499.17" stroke="#333" stroke-width="0.9"/>
<line x1="415.60" y1="499.17" x2="420.60" y2="499.17" stroke="#333" stroke-width="1"/>
<rect x="412.40" y="505.56" width="11.40" height="45.54" fill="#b4b4b4" stroke="#222" stroke-width="0.8"/>
<rect x="424.20" y="481.62" width="12.20" height="69.48" fill="#050505" stroke="#000" stroke-width="0.5"/>
<line x1="455.30" y1="498.41" x2="455.30" y2="487.38" stroke="#333" stroke-width="0.9"/>
<line x1="452.80" y1="487.38" x2="457.80" y2="487.38" stroke="#333" stroke-width="1"/>
<rect x="449.60" y="498.41" width="11.40" height="52.69" fill="#b4b4b4" stroke="#222" stroke-width="0.8"/>
<line x1="467.50" y1="457.78" x2="467.50" y2="454.52" stroke="#333" stroke-width="0.9"/>
<line x1="465.00" y1="454.52" x2="470.00" y2="454.52" stroke="#333" stroke-width="1"/>
<rect x="461.40" y="457.78" width="12.20" height="93.32" fill="#050505" stroke="#000" stroke-width="0.5"/>
<line x1="492.40" y1="514.93" x2="492.40" y2="514.40" stroke="#333" stroke-width="0.9"/>
<line x1="489.90" y1="514.40" x2="494.90" y2="514.40" stroke="#333" stroke-width="1"/>
<rect x="486.70" y="514.93" width="11.40" height="36.17" fill="#b4b4b4" stroke="#222" stroke-width="0.8"/>
<line x1="504.60" y1="445.73" x2="504.60" y2="429.65" stroke="#333" stroke-width="0.9"/>
<line x1="502.10" y1="429.65" x2="507.10" y2="429.65" stroke="#333" stroke-width="1"/>
<rect x="498.50" y="445.73" width="12.20" height="105.37" fill="#050505" stroke="#000" stroke-width="0.5"/>
<rect x="292.6" y="395.3" width="225.69999999999993" height="155.8" fill="none" stroke="#111" stroke-width="1.5"/>
<text x="289.20" y="554.40" font-size="8.9" text-anchor="end" font-weight="normal" fill="#111" stroke="#111" stroke-width="0.3" >0</text>
<line x1="292.60" y1="528.77" x2="297.10" y2="528.77" stroke="#111" stroke-width="1.2"/>
<text x="289.20" y="532.07" font-size="8.9" text-anchor="end" font-weight="normal" fill="#111" stroke="#111" stroke-width="0.3" textLength="11.13" lengthAdjust="spacingAndGlyphs">0.5</text>
<line x1="292.60" y1="506.45" x2="297.10" y2="506.45" stroke="#111" stroke-width="1.2"/>
<text x="289.20" y="509.75" font-size="8.9" text-anchor="end" font-weight="normal" fill="#111" stroke="#111" stroke-width="0.3" textLength="11.13" lengthAdjust="spacingAndGlyphs">1.0</text>
<line x1="292.60" y1="484.12" x2="297.10" y2="484.12" stroke="#111" stroke-width="1.2"/>
<text x="289.20" y="487.43" font-size="8.9" text-anchor="end" font-weight="normal" fill="#111" stroke="#111" stroke-width="0.3" textLength="11.13" lengthAdjust="spacingAndGlyphs">1.5</text>
<line x1="292.60" y1="461.80" x2="297.10" y2="461.80" stroke="#111" stroke-width="1.2"/>
<text x="289.20" y="465.10" font-size="8.9" text-anchor="end" font-weight="normal" fill="#111" stroke="#111" stroke-width="0.3" textLength="11.13" lengthAdjust="spacingAndGlyphs">2.0</text>
<line x1="292.60" y1="439.48" x2="297.10" y2="439.48" stroke="#111" stroke-width="1.2"/>
<text x="289.20" y="442.78" font-size="8.9" text-anchor="end" font-weight="normal" fill="#111" stroke="#111" stroke-width="0.3" textLength="11.13" lengthAdjust="spacingAndGlyphs">2.5</text>
<line x1="292.60" y1="417.15" x2="297.10" y2="417.15" stroke="#111" stroke-width="1.2"/>
<text x="289.20" y="420.45" font-size="8.9" text-anchor="end" font-weight="normal" fill="#111" stroke="#111" stroke-width="0.3" textLength="11.13" lengthAdjust="spacingAndGlyphs">3.0</text>
<text x="313.00" y="562.30" font-size="8.4" text-anchor="middle" font-weight="normal" fill="#111" stroke="#111" stroke-width="0.3" >NS</text>
<text x="350.20" y="562.30" font-size="8.4" text-anchor="middle" font-weight="normal" fill="#111" stroke="#111" stroke-width="0.3" >LPS</text>
<text x="387.20" y="562.30" font-size="8.4" text-anchor="middle" font-weight="normal" fill="#111" stroke="#111" stroke-width="0.3" >P3C</text>
<text x="424.20" y="562.30" font-size="8.4" text-anchor="middle" font-weight="normal" fill="#111" stroke="#111" stroke-width="0.3" >Ag</text>
<text x="461.40" y="562.30" font-size="8.4" text-anchor="middle" font-weight="normal" fill="#111" stroke="#111" stroke-width="0.3" >Ag</text>
<text x="461.40" y="568.90" font-size="7" text-anchor="middle" font-weight="bold" fill="#111" stroke="#111" stroke-width="0.3" >+</text>
<text x="461.40" y="576.90" font-size="8.4" text-anchor="middle" font-weight="normal" fill="#111" stroke="#111" stroke-width="0.3" >LPS</text>
<text x="498.50" y="562.30" font-size="8.4" text-anchor="middle" font-weight="normal" fill="#111" stroke="#111" stroke-width="0.3" >Ag</text>
<text x="498.50" y="568.90" font-size="7" text-anchor="middle" font-weight="bold" fill="#111" stroke="#111" stroke-width="0.3" >+</text>
<text x="498.50" y="576.90" font-size="8.4" text-anchor="middle" font-weight="normal" fill="#111" stroke="#111" stroke-width="0.3" >P3C</text>
<text transform="translate(271.6,483.9) rotate(-90)" font-size="8.3" text-anchor="middle" fill="#111" stroke="#111" stroke-width="0.2" textLength="88.3" lengthAdjust="spacingAndGlyphs">Optical Density (450nm)</text>
<text x="30.00" y="13.50" font-size="16.8" text-anchor="start" font-weight="bold" fill="#000" stroke="#000" stroke-width="0.3" textLength="12" lengthAdjust="spacingAndGlyphs">A</text>
<text x="292.40" y="12.80" font-size="16.8" text-anchor="start" font-weight="bold" fill="#000" stroke="#000" stroke-width="0.3" textLength="11.4" lengthAdjust="spacingAndGlyphs">B</text>
<text x="27.80" y="202.40" font-size="16.8" text-anchor="start" font-weight="bold" fill="#000" stroke="#000" stroke-width="0.3" textLength="11.6" lengthAdjust="spacingAndGlyphs">C</text>
<text x="294.00" y="202.40" font-size="16.8" text-anchor="start" font-weight="bold" fill="#000" stroke="#000" stroke-width="0.3" textLength="11.6" lengthAdjust="spacingAndGlyphs">D</text>
<text x="29.00" y="391.60" font-size="16.8" text-anchor="start" font-weight="bold" fill="#000" stroke="#000" stroke-width="0.3" textLength="10.6" lengthAdjust="spacingAndGlyphs">E</text>
<text x="296.00" y="391.60" font-size="16.8" text-anchor="start" font-weight="bold" fill="#000" stroke="#000" stroke-width="0.3" textLength="9.6" lengthAdjust="spacingAndGlyphs">F</text>
<text x="41.00" y="30.60" font-size="7.8" text-anchor="start" font-weight="bold" fill="#111" stroke="#111" stroke-width="0.3" textLength="25.5" lengthAdjust="spacingAndGlyphs">p-ATF-2</text>
<text x="306.60" y="29.50" font-size="7.8" text-anchor="start" font-weight="bold" fill="#111" stroke="#111" stroke-width="0.3" textLength="44.5" lengthAdjust="spacingAndGlyphs">NF&#954;B Activity</text>
<text x="40.30" y="217.60" font-size="7.8" text-anchor="start" font-weight="bold" fill="#111" stroke="#111" stroke-width="0.3" textLength="17.7" lengthAdjust="spacingAndGlyphs">c-Jun</text>
<text x="306.00" y="217.60" font-size="7.8" text-anchor="start" font-weight="bold" fill="#111" stroke="#111" stroke-width="0.3" textLength="24.5" lengthAdjust="spacingAndGlyphs">p-c-Jun</text>
<text x="40.00" y="407.20" font-size="7.8" text-anchor="start" font-weight="bold" fill="#111" stroke="#111" stroke-width="0.3" textLength="17" lengthAdjust="spacingAndGlyphs">c-Fos</text>
<text x="304.50" y="407.20" font-size="7.8" text-anchor="start" font-weight="bold" fill="#111" stroke="#111" stroke-width="0.3" textLength="43.5" lengthAdjust="spacingAndGlyphs">c-Fos Activity</text>
<rect x="36.70" y="69.10" width="12.40" height="7.00" fill="#b4b4b4" stroke="#222" stroke-width="0.8"/>
<text x="51.30" y="75.60" font-size="8" text-anchor="start" font-weight="normal" fill="#111" stroke="#111" stroke-width="0.3" textLength="18" lengthAdjust="spacingAndGlyphs">30 min</text>
<rect x="36.70" y="79.00" width="12.40" height="7.00" fill="#050505" stroke="#000" stroke-width="0.6"/>
<text x="51.30" y="85.50" font-size="8" text-anchor="start" font-weight="normal" fill="#111" stroke="#111" stroke-width="0.3" textLength="18" lengthAdjust="spacingAndGlyphs">60 min</text>
<rect x="75.10" y="254.20" width="12.40" height="7.00" fill="#b4b4b4" stroke="#222" stroke-width="0.8"/>
<text x="89.70" y="260.70" font-size="8" text-anchor="start" font-weight="normal" fill="#111" stroke="#111" stroke-width="0.3" textLength="18" lengthAdjust="spacingAndGlyphs">30 min</text>
<rect x="75.10" y="264.10" width="12.40" height="7.00" fill="#050505" stroke="#000" stroke-width="0.6"/>
<text x="89.70" y="270.60" font-size="8" text-anchor="start" font-weight="normal" fill="#111" stroke="#111" stroke-width="0.3" textLength="18" lengthAdjust="spacingAndGlyphs">60 min</text>
<rect x="335.20" y="253.30" width="12.40" height="7.00" fill="#b4b4b4" stroke="#222" stroke-width="0.8"/>
<text x="349.80" y="259.80" font-size="8" text-anchor="start" font-weight="normal" fill="#111" stroke="#111" stroke-width="0.3" textLength="18" lengthAdjust="spacingAndGlyphs">30 min</text>
<rect x="335.20" y="263.20" width="12.40" height="7.00" fill="#050505" stroke="#000" stroke-width="0.6"/>
<text x="349.80" y="269.70" font-size="8" text-anchor="start" font-weight="normal" fill="#111" stroke="#111" stroke-width="0.3" textLength="18" lengthAdjust="spacingAndGlyphs">60 min</text>
<rect x="60.10" y="449.50" width="12.40" height="7.00" fill="#b4b4b4" stroke="#222" stroke-width="0.8"/>
<text x="74.70" y="456.00" font-size="8" text-anchor="start" font-weight="normal" fill="#111" stroke="#111" stroke-width="0.3" textLength="18" lengthAdjust="spacingAndGlyphs">30 min</text>
<rect x="60.10" y="459.40" width="12.40" height="7.00" fill="#050505" stroke="#000" stroke-width="0.6"/>
<text x="74.70" y="465.90" font-size="8" text-anchor="start" font-weight="normal" fill="#111" stroke="#111" stroke-width="0.3" textLength="18" lengthAdjust="spacingAndGlyphs">60 min</text>
<rect x="334.20" y="417.50" width="12.40" height="7.00" fill="#b4b4b4" stroke="#222" stroke-width="0.8"/>
<text x="348.80" y="424.00" font-size="8" text-anchor="start" font-weight="normal" fill="#111" stroke="#111" stroke-width="0.3" textLength="18" lengthAdjust="spacingAndGlyphs">30 min</text>
<rect x="334.20" y="427.40" width="12.40" height="7.00" fill="#050505" stroke="#000" stroke-width="0.6"/>
<text x="348.80" y="433.90" font-size="8" text-anchor="start" font-weight="normal" fill="#111" stroke="#111" stroke-width="0.3" textLength="18" lengthAdjust="spacingAndGlyphs">60 min</text>
<rect x="396.30" y="22.80" width="12.20" height="7.00" fill="#fff" stroke="#222" stroke-width="0.8"/>
<text x="410.80" y="29.10" font-size="7.6" text-anchor="start" font-weight="normal" fill="#111" stroke="#111" stroke-width="0.3" textLength="15" lengthAdjust="spacingAndGlyphs">5 min</text>
<rect x="396.30" y="32.50" width="12.20" height="7.00" fill="url(#hatch)" stroke="#222" stroke-width="0.8"/>
<text x="410.80" y="38.80" font-size="7.6" text-anchor="start" font-weight="normal" fill="#111" stroke="#111" stroke-width="0.3" textLength="18" lengthAdjust="spacingAndGlyphs">15 min</text>
<rect x="441.80" y="22.80" width="12.20" height="7.00" fill="#b4b4b4" stroke="#222" stroke-width="0.8"/>
<text x="456.30" y="29.10" font-size="7.6" text-anchor="start" font-weight="normal" fill="#111" stroke="#111" stroke-width="0.3" textLength="18.1" lengthAdjust="spacingAndGlyphs">30 min</text>
<rect x="441.80" y="32.50" width="12.20" height="7.00" fill="#050505" stroke="#222" stroke-width="0.5"/>
<text x="456.30" y="38.80" font-size="7.6" text-anchor="start" font-weight="normal" fill="#111" stroke="#111" stroke-width="0.3" textLength="18.1" lengthAdjust="spacingAndGlyphs">60 min</text>
<rect x="71.50" y="21.30" width="125.50" height="43.00" fill="#fff" stroke="#777" stroke-width="0.9"/>
<text x="110.80" y="29.00" font-size="6.3" text-anchor="start" font-weight="normal" fill="#1a1a1a" stroke="#1a1a1a" stroke-width="0.15" textLength="16.8" lengthAdjust="spacingAndGlyphs">30 min</text>
<line x1="95.30" y1="30.40" x2="143.80" y2="30.40" stroke="#555" stroke-width="0.6"/>
<text x="163.50" y="29.00" font-size="6.3" text-anchor="start" font-weight="normal" fill="#1a1a1a" stroke="#1a1a1a" stroke-width="0.15" textLength="16.8" lengthAdjust="spacingAndGlyphs">60 min</text>
<line x1="150.40" y1="30.40" x2="194.00" y2="30.40" stroke="#555" stroke-width="0.6"/>
<text x="74.20" y="37.80" font-size="6.6" text-anchor="start" font-weight="normal" fill="#1a1a1a" stroke="#1a1a1a" stroke-width="0.15" textLength="19.8" lengthAdjust="spacingAndGlyphs">p-ATF-2</text>
<text x="74.20" y="48.30" font-size="6.6" text-anchor="start" font-weight="normal" fill="#1a1a1a" stroke="#1a1a1a" stroke-width="0.15" textLength="15" lengthAdjust="spacingAndGlyphs">ATF-2</text>
<ellipse cx="107.40" cy="34.90" rx="2.75" ry="0.75" fill="#000" opacity="0.9" filter="url(#bl)"/>
<ellipse cx="115.90" cy="34.90" rx="3.50" ry="1.80" fill="#000" opacity="1" filter="url(#bl)"/>
<ellipse cx="124.00" cy="34.90" rx="2.50" ry="0.75" fill="#000" opacity="0.9" filter="url(#bl)"/>
<ellipse cx="132.00" cy="34.90" rx="3.70" ry="2.10" fill="#000" opacity="1" filter="url(#bl)"/>
<ellipse cx="139.60" cy="34.90" rx="3.90" ry="2.30" fill="#000" opacity="1" filter="url(#bl)"/>
<ellipse cx="154.00" cy="34.90" rx="3.25" ry="1.00" fill="#000" opacity="1" filter="url(#bl)"/>
<ellipse cx="162.70" cy="34.90" rx="3.60" ry="2.00" fill="#000" opacity="1" filter="url(#bl)"/>
<ellipse cx="172.00" cy="34.90" rx="3.00" ry="0.45" fill="#000" opacity="0.3" filter="url(#bl)"/>
<ellipse cx="181.00" cy="34.90" rx="3.70" ry="1.60" fill="#000" opacity="1" filter="url(#bl)"/>
<ellipse cx="190.00" cy="34.90" rx="3.70" ry="1.50" fill="#000" opacity="1" filter="url(#bl)"/>
<ellipse cx="99.00" cy="46.20" rx="3.40" ry="1.35" fill="#000" opacity="1" filter="url(#bl)"/>
<ellipse cx="107.40" cy="46.20" rx="3.40" ry="1.35" fill="#000" opacity="1" filter="url(#bl)"/>
<ellipse cx="115.90" cy="46.20" rx="3.40" ry="1.35" fill="#000" opacity="1" filter="url(#bl)"/>
<ellipse cx="124.00" cy="46.20" rx="3.40" ry="1.35" fill="#000" opacity="1" filter="url(#bl)"/>
<ellipse cx="132.00" cy="46.20" rx="3.40" ry="1.35" fill="#000" opacity="1" filter="url(#bl)"/>
<ellipse cx="139.60" cy="46.20" rx="3.40" ry="1.35" fill="#000" opacity="1" filter="url(#bl)"/>
<ellipse cx="154.00" cy="46.20" rx="3.40" ry="1.35" fill="#000" opacity="1" filter="url(#bl)"/>
<ellipse cx="162.70" cy="46.20" rx="3.40" ry="1.35" fill="#000" opacity="1" filter="url(#bl)"/>
<ellipse cx="172.00" cy="46.20" rx="3.40" ry="1.35" fill="#000" opacity="1" filter="url(#bl)"/>
<ellipse cx="181.00" cy="46.20" rx="3.40" ry="1.35" fill="#000" opacity="1" filter="url(#bl)"/>
<ellipse cx="190.00" cy="46.20" rx="3.40" ry="1.35" fill="#000" opacity="1" filter="url(#bl)"/>
<text x="99.00" y="53.30" font-size="4.6" text-anchor="middle" font-weight="normal" fill="#111" stroke="#111" stroke-width="0.15" textLength="5.52" lengthAdjust="spacingAndGlyphs">NS</text>
<text x="107.40" y="53.30" font-size="4.6" text-anchor="middle" font-weight="normal" fill="#111" stroke="#111" stroke-width="0.15" textLength="6.73" lengthAdjust="spacingAndGlyphs">LPS</text>
<text x="115.90" y="53.30" font-size="4.6" text-anchor="middle" font-weight="normal" fill="#111" stroke="#111" stroke-width="0.15" textLength="7.01" lengthAdjust="spacingAndGlyphs">P3C</text>
<text x="124.00" y="53.30" font-size="4.6" text-anchor="middle" font-weight="normal" fill="#111" stroke="#111" stroke-width="0.15" textLength="4.67" lengthAdjust="spacingAndGlyphs">Ag</text>
<text x="132.00" y="53.30" font-size="4.6" text-anchor="middle" font-weight="normal" fill="#111" stroke="#111" stroke-width="0.15" textLength="4.67" lengthAdjust="spacingAndGlyphs">Ag</text>
<text x="132.00" y="57.10" font-size="3.9" text-anchor="middle" font-weight="bold" fill="#111" stroke="#111" stroke-width="0.15" >+</text>
<text x="132.00" y="61.70" font-size="4.6" text-anchor="middle" font-weight="normal" fill="#111" stroke="#111" stroke-width="0.15" textLength="6.73" lengthAdjust="spacingAndGlyphs">LPS</text>
<text x="139.60" y="53.30" font-size="4.6" text-anchor="middle" font-weight="normal" fill="#111" stroke="#111" stroke-width="0.15" textLength="4.67" lengthAdjust="spacingAndGlyphs">Ag</text>
<text x="139.60" y="57.10" font-size="3.9" text-anchor="middle" font-weight="bold" fill="#111" stroke="#111" stroke-width="0.15" >+</text>
<text x="139.60" y="61.70" font-size="4.6" text-anchor="middle" font-weight="normal" fill="#111" stroke="#111" stroke-width="0.15" textLength="7.01" lengthAdjust="spacingAndGlyphs">P3C</text>
<text x="154.00" y="53.30" font-size="4.6" text-anchor="middle" font-weight="normal" fill="#111" stroke="#111" stroke-width="0.15" textLength="6.73" lengthAdjust="spacingAndGlyphs">LPS</text>
<text x="162.70" y="53.30" font-size="4.6" text-anchor="middle" font-weight="normal" fill="#111" stroke="#111" stroke-width="0.15" textLength="7.01" lengthAdjust="spacingAndGlyphs">P3C</text>
<text x="172.00" y="53.30" font-size="4.6" text-anchor="middle" font-weight="normal" fill="#111" stroke="#111" stroke-width="0.15" textLength="4.67" lengthAdjust="spacingAndGlyphs">Ag</text>
<text x="181.00" y="53.30" font-size="4.6" text-anchor="middle" font-weight="normal" fill="#111" stroke="#111" stroke-width="0.15" textLength="4.67" lengthAdjust="spacingAndGlyphs">Ag</text>
<text x="181.00" y="57.10" font-size="3.9" text-anchor="middle" font-weight="bold" fill="#111" stroke="#111" stroke-width="0.15" >+</text>
<text x="181.00" y="61.70" font-size="4.6" text-anchor="middle" font-weight="normal" fill="#111" stroke="#111" stroke-width="0.15" textLength="6.73" lengthAdjust="spacingAndGlyphs">LPS</text>
<text x="190.00" y="53.30" font-size="4.6" text-anchor="middle" font-weight="normal" fill="#111" stroke="#111" stroke-width="0.15" textLength="4.67" lengthAdjust="spacingAndGlyphs">Ag</text>
<text x="190.00" y="57.10" font-size="3.9" text-anchor="middle" font-weight="bold" fill="#111" stroke="#111" stroke-width="0.15" >+</text>
<text x="190.00" y="61.70" font-size="4.6" text-anchor="middle" font-weight="normal" fill="#111" stroke="#111" stroke-width="0.15" textLength="7.01" lengthAdjust="spacingAndGlyphs">P3C</text>
<text x="206.30" y="58.20" font-size="4.8" text-anchor="middle" font-weight="normal" fill="#333" stroke="#333" stroke-width="0.15" >P3C</text>
<text x="217.30" y="58.20" font-size="4.8" text-anchor="middle" font-weight="normal" fill="#333" stroke="#333" stroke-width="0.15" >A</text>
<text x="232.30" y="58.20" font-size="4.8" text-anchor="middle" font-weight="normal" fill="#333" stroke="#333" stroke-width="0.15" >)</text>
<text x="241.40" y="58.20" font-size="4.8" text-anchor="middle" font-weight="normal" fill="#333" stroke="#333" stroke-width="0.15" >Ag</text>
<text x="241.00" y="61.60" font-size="3.4" text-anchor="middle" font-weight="normal" fill="#333" stroke="#333" stroke-width="0.15" >+</text>
<text x="241.60" y="66.80" font-size="4.8" text-anchor="middle" font-weight="normal" fill="#333" stroke="#333" stroke-width="0.15" >P3C</text>
<text x="232.80" y="66.80" font-size="4.8" text-anchor="middle" font-weight="normal" fill="#333" stroke="#333" stroke-width="0.15" >S</text>
<rect x="75.20" y="211.40" width="174.20" height="37.00" fill="#fff" stroke="#777" stroke-width="0.9"/>
<text x="124.20" y="218.60" font-size="6.3" text-anchor="start" font-weight="normal" fill="#1a1a1a" stroke="#1a1a1a" stroke-width="0.15" textLength="16.4" lengthAdjust="spacingAndGlyphs">30 min</text>
<line x1="97.30" y1="220.80" x2="167.10" y2="220.80" stroke="#777" stroke-width="0.7"/>
<text x="203.50" y="218.60" font-size="6.3" text-anchor="start" font-weight="normal" fill="#1a1a1a" stroke="#1a1a1a" stroke-width="0.15" textLength="16.5" lengthAdjust="spacingAndGlyphs">60 min</text>
<line x1="176.80" y1="220.80" x2="246.00" y2="220.80" stroke="#777" stroke-width="0.7"/>
<text x="78.00" y="229.60" font-size="7" text-anchor="start" font-weight="normal" fill="#1a1a1a" stroke="#1a1a1a" stroke-width="0.3" textLength="15" lengthAdjust="spacingAndGlyphs">c-Jun</text>
<ellipse cx="101.50" cy="227.00" rx="3.15" ry="1.00" fill="#000" opacity="0.9" filter="url(#bl)"/>
<ellipse cx="113.00" cy="227.00" rx="3.75" ry="1.30" fill="#000" opacity="1" filter="url(#bl)"/>
<ellipse cx="124.40" cy="227.00" rx="3.85" ry="1.30" fill="#000" opacity="1" filter="url(#bl)"/>
<ellipse cx="136.80" cy="227.00" rx="4.30" ry="1.60" fill="#000" opacity="1" filter="url(#bl)"/>
<ellipse cx="149.30" cy="227.00" rx="4.50" ry="2.10" fill="#000" opacity="1" filter="url(#bl)"/>
<ellipse cx="161.90" cy="227.00" rx="4.60" ry="1.80" fill="#000" opacity="1" filter="url(#bl)"/>
<ellipse cx="181.70" cy="227.00" rx="3.30" ry="0.80" fill="#000" opacity="0.75" filter="url(#bl)"/>
<ellipse cx="193.50" cy="227.00" rx="3.85" ry="1.10" fill="#000" opacity="0.9" filter="url(#bl)"/>
<ellipse cx="205.20" cy="227.00" rx="4.00" ry="1.15" fill="#000" opacity="0.9" filter="url(#bl)"/>
<ellipse cx="217.60" cy="227.00" rx="4.40" ry="1.60" fill="#000" opacity="1" filter="url(#bl)"/>
<ellipse cx="229.80" cy="227.00" rx="4.35" ry="1.70" fill="#000" opacity="1" filter="url(#bl)"/>
<ellipse cx="240.80" cy="227.00" rx="4.25" ry="1.80" fill="#000" opacity="1" filter="url(#bl)"/>
<text x="101.50" y="236.80" font-size="4.8999999999999995" text-anchor="middle" font-weight="normal" fill="#111" stroke="#111" stroke-width="0.15" textLength="5.90" lengthAdjust="spacingAndGlyphs">NS</text>
<text x="113.00" y="236.80" font-size="4.8999999999999995" text-anchor="middle" font-weight="normal" fill="#111" stroke="#111" stroke-width="0.15" textLength="7.20" lengthAdjust="spacingAndGlyphs">LPS</text>
<text x="124.40" y="236.80" font-size="4.8999999999999995" text-anchor="middle" font-weight="normal" fill="#111" stroke="#111" stroke-width="0.15" textLength="7.50" lengthAdjust="spacingAndGlyphs">P3C</text>
<text x="136.80" y="236.80" font-size="4.8999999999999995" text-anchor="middle" font-weight="normal" fill="#111" stroke="#111" stroke-width="0.15" textLength="5.00" lengthAdjust="spacingAndGlyphs">Ag</text>
<text x="149.30" y="236.80" font-size="4.8999999999999995" text-anchor="middle" font-weight="normal" fill="#111" stroke="#111" stroke-width="0.15" textLength="5.00" lengthAdjust="spacingAndGlyphs">Ag</text>
<text x="149.30" y="240.50" font-size="3.9" text-anchor="middle" font-weight="bold" fill="#111" stroke="#111" stroke-width="0.15" >+</text>
<text x="149.30" y="245.20" font-size="4.8999999999999995" text-anchor="middle" font-weight="normal" fill="#111" stroke="#111" stroke-width="0.15" textLength="7.20" lengthAdjust="spacingAndGlyphs">LPS</text>
<text x="161.90" y="236.80" font-size="4.8999999999999995" text-anchor="middle" font-weight="normal" fill="#111" stroke="#111" stroke-width="0.15" textLength="5.00" lengthAdjust="spacingAndGlyphs">Ag</text>
<text x="161.90" y="240.50" font-size="3.9" text-anchor="middle" font-weight="bold" fill="#111" stroke="#111" stroke-width="0.15" >+</text>
<text x="161.90" y="245.20" font-size="4.8999999999999995" text-anchor="middle" font-weight="normal" fill="#111" stroke="#111" stroke-width="0.15" textLength="7.50" lengthAdjust="spacingAndGlyphs">P3C</text>
<text x="181.70" y="236.80" font-size="4.8999999999999995" text-anchor="middle" font-weight="normal" fill="#111" stroke="#111" stroke-width="0.15" textLength="5.90" lengthAdjust="spacingAndGlyphs">NS</text>
<text x="193.50" y="236.80" font-size="4.8999999999999995" text-anchor="middle" font-weight="normal" fill="#111" stroke="#111" stroke-width="0.15" textLength="7.20" lengthAdjust="spacingAndGlyphs">LPS</text>
<text x="205.20" y="236.80" font-size="4.8999999999999995" text-anchor="middle" font-weight="normal" fill="#111" stroke="#111" stroke-width="0.15" textLength="7.50" lengthAdjust="spacingAndGlyphs">P3C</text>
<text x="217.60" y="236.80" font-size="4.8999999999999995" text-anchor="middle" font-weight="normal" fill="#111" stroke="#111" stroke-width="0.15" textLength="5.00" lengthAdjust="spacingAndGlyphs">Ag</text>
<text x="229.80" y="236.80" font-size="4.8999999999999995" text-anchor="middle" font-weight="normal" fill="#111" stroke="#111" stroke-width="0.15" textLength="5.00" lengthAdjust="spacingAndGlyphs">Ag</text>
<text x="229.80" y="240.50" font-size="3.9" text-anchor="middle" font-weight="bold" fill="#111" stroke="#111" stroke-width="0.15" >+</text>
<text x="229.80" y="245.20" font-size="4.8999999999999995" text-anchor="middle" font-weight="normal" fill="#111" stroke="#111" stroke-width="0.15" textLength="7.20" lengthAdjust="spacingAndGlyphs">LPS</text>
<text x="240.80" y="236.80" font-size="4.8999999999999995" text-anchor="middle" font-weight="normal" fill="#111" stroke="#111" stroke-width="0.15" textLength="5.00" lengthAdjust="spacingAndGlyphs">Ag</text>
<text x="240.80" y="240.50" font-size="3.9" text-anchor="middle" font-weight="bold" fill="#111" stroke="#111" stroke-width="0.15" >+</text>
<text x="240.80" y="245.20" font-size="4.8999999999999995" text-anchor="middle" font-weight="normal" fill="#111" stroke="#111" stroke-width="0.15" textLength="7.50" lengthAdjust="spacingAndGlyphs">P3C</text>
<rect x="335.40" y="211.20" width="177.30" height="37.60" fill="#fff" stroke="#777" stroke-width="0.9"/>
<text x="387.70" y="218.50" font-size="6.3" text-anchor="start" font-weight="normal" fill="#1a1a1a" stroke="#1a1a1a" stroke-width="0.15" textLength="16.5" lengthAdjust="spacingAndGlyphs">30 min</text>
<line x1="361.50" y1="221.20" x2="431.50" y2="221.20" stroke="#777" stroke-width="0.7"/>
<text x="467.10" y="218.50" font-size="6.3" text-anchor="start" font-weight="normal" fill="#1a1a1a" stroke="#1a1a1a" stroke-width="0.15" textLength="16.6" lengthAdjust="spacingAndGlyphs">60 min</text>
<line x1="440.30" y1="221.20" x2="509.40" y2="221.20" stroke="#777" stroke-width="0.7"/>
<text x="338.00" y="230.60" font-size="7" text-anchor="start" font-weight="normal" fill="#1a1a1a" stroke="#1a1a1a" stroke-width="0.3" textLength="20" lengthAdjust="spacingAndGlyphs">p-c-Jun</text>
<ellipse cx="377.60" cy="228.40" rx="3.25" ry="0.75" fill="#000" opacity="0.5" filter="url(#bl)"/>
<ellipse cx="389.30" cy="228.40" rx="3.10" ry="0.75" fill="#000" opacity="0.4" filter="url(#bl)"/>
<ellipse cx="401.50" cy="228.40" rx="3.90" ry="1.05" fill="#000" opacity="0.85" filter="url(#bl)"/>
<ellipse cx="414.40" cy="228.40" rx="4.40" ry="2.10" fill="#000" opacity="1" filter="url(#bl)"/>
<ellipse cx="426.90" cy="228.40" rx="4.60" ry="2.20" fill="#000" opacity="1" filter="url(#bl)"/>
<ellipse cx="443.80" cy="228.40" rx="2.50" ry="0.50" fill="#000" opacity="0.07" filter="url(#bl)"/>
<ellipse cx="456.20" cy="228.40" rx="3.85" ry="0.95" fill="#000" opacity="0.5" filter="url(#bl)"/>
<ellipse cx="468.80" cy="228.40" rx="4.10" ry="1.05" fill="#000" opacity="0.75" filter="url(#bl)"/>
<ellipse cx="482.10" cy="228.40" rx="4.20" ry="1.30" fill="#000" opacity="0.9" filter="url(#bl)"/>
<ellipse cx="494.20" cy="228.40" rx="4.40" ry="2.30" fill="#000" opacity="1" filter="url(#bl)"/>
<ellipse cx="506.00" cy="228.40" rx="4.10" ry="2.00" fill="#000" opacity="1" filter="url(#bl)"/>
<text x="365.70" y="237.90" font-size="4.8999999999999995" text-anchor="middle" font-weight="normal" fill="#111" stroke="#111" stroke-width="0.15" textLength="5.90" lengthAdjust="spacingAndGlyphs">NS</text>
<text x="377.60" y="237.90" font-size="4.8999999999999995" text-anchor="middle" font-weight="normal" fill="#111" stroke="#111" stroke-width="0.15" textLength="7.20" lengthAdjust="spacingAndGlyphs">LPS</text>
<text x="389.30" y="237.90" font-size="4.8999999999999995" text-anchor="middle" font-weight="normal" fill="#111" stroke="#111" stroke-width="0.15" textLength="7.50" lengthAdjust="spacingAndGlyphs">P3C</text>
<text x="401.50" y="237.90" font-size="4.8999999999999995" text-anchor="middle" font-weight="normal" fill="#111" stroke="#111" stroke-width="0.15" textLength="5.00" lengthAdjust="spacingAndGlyphs">Ag</text>
<text x="414.40" y="237.90" font-size="4.8999999999999995" text-anchor="middle" font-weight="normal" fill="#111" stroke="#111" stroke-width="0.15" textLength="5.00" lengthAdjust="spacingAndGlyphs">Ag</text>
<text x="414.40" y="241.70" font-size="3.9" text-anchor="middle" font-weight="bold" fill="#111" stroke="#111" stroke-width="0.15" >+</text>
<text x="414.40" y="246.90" font-size="4.8999999999999995" text-anchor="middle" font-weight="normal" fill="#111" stroke="#111" stroke-width="0.15" textLength="7.20" lengthAdjust="spacingAndGlyphs">LPS</text>
<text x="426.90" y="237.90" font-size="4.8999999999999995" text-anchor="middle" font-weight="normal" fill="#111" stroke="#111" stroke-width="0.15" textLength="5.00" lengthAdjust="spacingAndGlyphs">Ag</text>
<text x="426.90" y="241.70" font-size="3.9" text-anchor="middle" font-weight="bold" fill="#111" stroke="#111" stroke-width="0.15" >+</text>
<text x="426.90" y="246.90" font-size="4.8999999999999995" text-anchor="middle" font-weight="normal" fill="#111" stroke="#111" stroke-width="0.15" textLength="7.50" lengthAdjust="spacingAndGlyphs">P3C</text>
<text x="443.80" y="237.90" font-size="4.8999999999999995" text-anchor="middle" font-weight="normal" fill="#111" stroke="#111" stroke-width="0.15" textLength="5.90" lengthAdjust="spacingAndGlyphs">NS</text>
<text x="456.20" y="237.90" font-size="4.8999999999999995" text-anchor="middle" font-weight="normal" fill="#111" stroke="#111" stroke-width="0.15" textLength="7.20" lengthAdjust="spacingAndGlyphs">LPS</text>
<text x="468.80" y="237.90" font-size="4.8999999999999995" text-anchor="middle" font-weight="normal" fill="#111" stroke="#111" stroke-width="0.15" textLength="7.50" lengthAdjust="spacingAndGlyphs">P3C</text>
<text x="482.10" y="237.90" font-size="4.8999999999999995" text-anchor="middle" font-weight="normal" fill="#111" stroke="#111" stroke-width="0.15" textLength="5.00" lengthAdjust="spacingAndGlyphs">Ag</text>
<text x="494.20" y="237.90" font-size="4.8999999999999995" text-anchor="middle" font-weight="normal" fill="#111" stroke="#111" stroke-width="0.15" textLength="5.00" lengthAdjust="spacingAndGlyphs">Ag</text>
<text x="494.20" y="241.70" font-size="3.9" text-anchor="middle" font-weight="bold" fill="#111" stroke="#111" stroke-width="0.15" >+</text>
<text x="494.20" y="246.90" font-size="4.8999999999999995" text-anchor="middle" font-weight="normal" fill="#111" stroke="#111" stroke-width="0.15" textLength="7.20" lengthAdjust="spacingAndGlyphs">LPS</text>
<text x="506.00" y="237.90" font-size="4.8999999999999995" text-anchor="middle" font-weight="normal" fill="#111" stroke="#111" stroke-width="0.15" textLength="5.00" lengthAdjust="spacingAndGlyphs">Ag</text>
<text x="506.00" y="241.70" font-size="3.9" text-anchor="middle" font-weight="bold" fill="#111" stroke="#111" stroke-width="0.15" >+</text>
<text x="506.00" y="246.90" font-size="4.8999999999999995" text-anchor="middle" font-weight="normal" fill="#111" stroke="#111" stroke-width="0.15" textLength="7.50" lengthAdjust="spacingAndGlyphs">P3C</text>
<rect x="60.40" y="401.40" width="188.80" height="42.80" fill="#fff" stroke="#777" stroke-width="0.9"/>
<text x="123.80" y="409.50" font-size="6.3" text-anchor="start" font-weight="normal" fill="#1a1a1a" stroke="#1a1a1a" stroke-width="0.15" textLength="17" lengthAdjust="spacingAndGlyphs">30 min</text>
<line x1="97.30" y1="411.40" x2="167.40" y2="411.40" stroke="#777" stroke-width="0.7"/>
<text x="203.40" y="409.50" font-size="6.3" text-anchor="start" font-weight="normal" fill="#1a1a1a" stroke="#1a1a1a" stroke-width="0.15" textLength="16.6" lengthAdjust="spacingAndGlyphs">60 min</text>
<line x1="177.20" y1="411.40" x2="245.80" y2="411.40" stroke="#777" stroke-width="0.7"/>
<text x="63.50" y="421.10" font-size="7" text-anchor="start" font-weight="normal" fill="#1a1a1a" stroke="#1a1a1a" stroke-width="0.3" textLength="15.3" lengthAdjust="spacingAndGlyphs">c-Fos</text>
<ellipse cx="85.40" cy="418.00" rx="3.40" ry="0.50" fill="#000" opacity="0.2" filter="url(#bl)"/>
<ellipse cx="98.30" cy="418.00" rx="3.65" ry="0.50" fill="#000" opacity="0.2" filter="url(#bl)"/>
<ellipse cx="111.50" cy="418.00" rx="4.25" ry="0.75" fill="#000" opacity="0.45" filter="url(#bl)"/>
<path d="M120.60,416.38 Q125.80,417.28 131.00,416.38 Q130.40,420.16 125.80,420.16 Q121.20,420.16 120.60,416.38Z" fill="#000" filter="url(#bl)"/>
<path d="M134.20,416.47 Q139.40,417.32 144.60,416.47 Q144.00,420.04 139.40,420.04 Q134.80,420.04 134.20,416.47Z" fill="#000" filter="url(#bl)"/>
<path d="M147.70,416.38 Q153.10,417.28 158.50,416.38 Q157.90,420.16 153.10,420.16 Q148.30,420.16 147.70,416.38Z" fill="#000" filter="url(#bl)"/>
<ellipse cx="167.70" cy="418.00" rx="4.50" ry="0.60" fill="#000" opacity="0.3" filter="url(#bl)"/>
<ellipse cx="182.30" cy="418.00" rx="3.75" ry="0.45" fill="#000" opacity="0.1" filter="url(#bl)"/>
<ellipse cx="195.60" cy="418.00" rx="4.20" ry="0.55" fill="#000" opacity="0.25" filter="url(#bl)"/>
<path d="M203.80,415.93 Q209.60,417.08 215.40,415.93 Q214.80,420.76 209.60,420.76 Q204.40,420.76 203.80,415.93Z" fill="#000" filter="url(#bl)"/>
<path d="M217.65,416.20 Q223.30,417.20 228.95,416.20 Q228.35,420.40 223.30,420.40 Q218.25,420.40 217.65,416.20Z" fill="#000" filter="url(#bl)"/>
<path d="M231.50,416.47 Q236.50,417.32 241.50,416.47 Q240.90,420.04 236.50,420.04 Q232.10,420.04 231.50,416.47Z" fill="#000" filter="url(#bl)"/>
<ellipse cx="125.80" cy="421.30" rx="3.25" ry="1.10" fill="#000" opacity="0.12" filter="url(#bl)"/>
<ellipse cx="139.40" cy="421.30" rx="3.25" ry="1.10" fill="#000" opacity="0.12" filter="url(#bl)"/>
<ellipse cx="153.10" cy="421.30" rx="3.25" ry="1.10" fill="#000" opacity="0.12" filter="url(#bl)"/>
<ellipse cx="209.60" cy="423.20" rx="3.50" ry="1.30" fill="#000" opacity="0.2" filter="url(#bl)"/>
<ellipse cx="223.30" cy="423.20" rx="3.50" ry="1.30" fill="#000" opacity="0.2" filter="url(#bl)"/>
<ellipse cx="236.50" cy="423.20" rx="3.50" ry="1.30" fill="#000" opacity="0.2" filter="url(#bl)"/>
<text x="85.40" y="431.20" font-size="4.8999999999999995" text-anchor="middle" font-weight="normal" fill="#111" stroke="#111" stroke-width="0.15" textLength="5.90" lengthAdjust="spacingAndGlyphs">NS</text>
<text x="98.30" y="431.20" font-size="4.8999999999999995" text-anchor="middle" font-weight="normal" fill="#111" stroke="#111" stroke-width="0.15" textLength="7.20" lengthAdjust="spacingAndGlyphs">LPS</text>
<text x="111.50" y="431.20" font-size="4.8999999999999995" text-anchor="middle" font-weight="normal" fill="#111" stroke="#111" stroke-width="0.15" textLength="7.50" lengthAdjust="spacingAndGlyphs">P3C</text>
<text x="125.80" y="431.20" font-size="4.8999999999999995" text-anchor="middle" font-weight="normal" fill="#111" stroke="#111" stroke-width="0.15" textLength="5.00" lengthAdjust="spacingAndGlyphs">Ag</text>
<text x="139.40" y="431.20" font-size="4.8999999999999995" text-anchor="middle" font-weight="normal" fill="#111" stroke="#111" stroke-width="0.15" textLength="5.00" lengthAdjust="spacingAndGlyphs">Ag</text>
<text x="139.40" y="434.80" font-size="3.9" text-anchor="middle" font-weight="bold" fill="#111" stroke="#111" stroke-width="0.15" >+</text>
<text x="139.40" y="439.80" font-size="4.8999999999999995" text-anchor="middle" font-weight="normal" fill="#111" stroke="#111" stroke-width="0.15" textLength="7.20" lengthAdjust="spacingAndGlyphs">LPS</text>
<text x="153.10" y="431.20" font-size="4.8999999999999995" text-anchor="middle" font-weight="normal" fill="#111" stroke="#111" stroke-width="0.15" textLength="5.00" lengthAdjust="spacingAndGlyphs">Ag</text>
<text x="153.10" y="434.80" font-size="3.9" text-anchor="middle" font-weight="bold" fill="#111" stroke="#111" stroke-width="0.15" >+</text>
<text x="153.10" y="439.80" font-size="4.8999999999999995" text-anchor="middle" font-weight="normal" fill="#111" stroke="#111" stroke-width="0.15" textLength="7.50" lengthAdjust="spacingAndGlyphs">P3C</text>
<text x="167.70" y="431.20" font-size="4.8999999999999995" text-anchor="middle" font-weight="normal" fill="#111" stroke="#111" stroke-width="0.15" textLength="5.90" lengthAdjust="spacingAndGlyphs">NS</text>
<text x="182.30" y="431.20" font-size="4.8999999999999995" text-anchor="middle" font-weight="normal" fill="#111" stroke="#111" stroke-width="0.15" textLength="7.20" lengthAdjust="spacingAndGlyphs">LPS</text>
<text x="195.60" y="431.20" font-size="4.8999999999999995" text-anchor="middle" font-weight="normal" fill="#111" stroke="#111" stroke-width="0.15" textLength="7.50" lengthAdjust="spacingAndGlyphs">P3C</text>
<text x="209.60" y="431.20" font-size="4.8999999999999995" text-anchor="middle" font-weight="normal" fill="#111" stroke="#111" stroke-width="0.15" textLength="5.00" lengthAdjust="spacingAndGlyphs">Ag</text>
<text x="223.30" y="431.20" font-size="4.8999999999999995" text-anchor="middle" font-weight="normal" fill="#111" stroke="#111" stroke-width="0.15" textLength="5.00" lengthAdjust="spacingAndGlyphs">Ag</text>
<text x="223.30" y="434.80" font-size="3.9" text-anchor="middle" font-weight="bold" fill="#111" stroke="#111" stroke-width="0.15" >+</text>
<text x="223.30" y="439.80" font-size="4.8999999999999995" text-anchor="middle" font-weight="normal" fill="#111" stroke="#111" stroke-width="0.15" textLength="7.20" lengthAdjust="spacingAndGlyphs">LPS</text>
<text x="236.50" y="431.20" font-size="4.8999999999999995" text-anchor="middle" font-weight="normal" fill="#111" stroke="#111" stroke-width="0.15" textLength="5.00" lengthAdjust="spacingAndGlyphs">Ag</text>
<text x="236.50" y="434.80" font-size="3.9" text-anchor="middle" font-weight="bold" fill="#111" stroke="#111" stroke-width="0.15" >+</text>
<text x="236.50" y="439.80" font-size="4.8999999999999995" text-anchor="middle" font-weight="normal" fill="#111" stroke="#111" stroke-width="0.15" textLength="7.50" lengthAdjust="spacingAndGlyphs">P3C</text>
</svg></body></html>
